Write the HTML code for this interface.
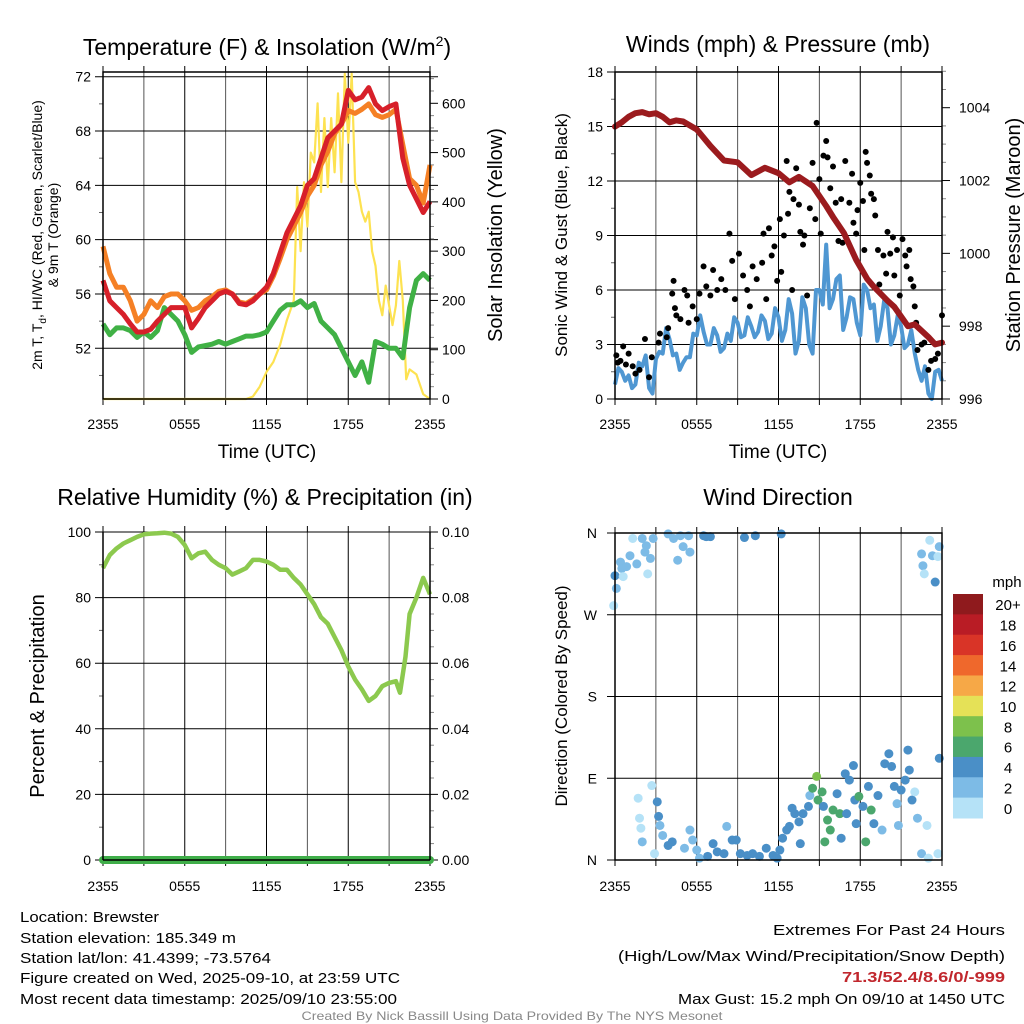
<!DOCTYPE html>
<html><head><meta charset="utf-8"><style>
html,body{margin:0;padding:0;background:#fff}
svg{display:block;font-family:"Liberation Sans",sans-serif}
</style></head><body>
<svg id="fig" width="1024" height="1024" viewBox="0 0 1024 1024" xmlns="http://www.w3.org/2000/svg"></svg>
<script>
// ---------- DATA ----------
const xTickLabels=["2355","0555","1155","1755","2355"];
const tHalf=[0,0.5,1,1.5,2,2.5,3,3.5,4,4.5,5,5.5,6,6.5,7,7.5,8,8.5,9,9.5,10,10.5,11,11.5,12,12.5,13,13.5,14,14.5,15,15.5,16,16.5,17,17.5,18,18.5,19,19.5,20,20.5,21,21.5,22,22.5,23,23.5,24];
const tempRed=[57,55.5,55,54.5,53.8,53.2,53.2,53.4,54,54.5,55,55,55,53.5,54.2,55,55.5,56,56.2,56,55.3,55.2,55.5,56,56.5,57.5,59,60.5,61.5,62.5,64,64.5,66,67.5,68,68.5,71,70.3,70.5,71.2,70,69.5,69.8,70,66,64,63,62,62.8];
const temp9m=[59.5,57.5,56.5,56.5,55.5,54,54.5,55.5,55,55.8,56,56,55.5,54.8,55,55.5,55.8,56.2,56.3,56,55.4,55.3,55.6,56,56.3,57.3,58.6,60,61,62,63.2,64,65.5,66.5,67.8,68.5,69.5,69.3,69.6,70,69.2,69,69.2,69.6,67,64.5,64,62.7,65.5];
const dewGreen=[53.8,53,53.5,53.5,53.3,52.8,53.2,52.8,53.3,55,54.5,54,53,51.7,52.1,52.2,52.3,52.5,52.3,52.5,52.7,52.9,52.9,53,53.2,54,54.8,55.2,55.2,55.5,55,55.3,54,53.5,53,52,51,50,51,49.5,52.5,52.3,52,52,51.3,55,57,57.5,57];
const solT=[0,10.5,11,11.5,12,12.5,13,13.5,14,14.25,14.5,14.75,15,15.25,15.5,15.75,16,16.25,16.5,16.75,17,17.25,17.5,17.75,18,18.25,18.5,18.75,19,19.25,19.5,19.75,20,20.25,20.5,20.75,21,21.25,21.5,21.75,22,22.25,22.5,23,23.5,24];
const solVal=[0,0,5,25,55,75,110,160,200,430,300,440,350,500,480,600,420,570,430,570,460,620,440,660,520,660,440,420,380,360,380,300,270,200,170,230,190,150,190,280,200,40,60,50,10,0];
const presT=[0,0.5,1,1.5,2,2.5,3,3.5,4,4.5,5,6,7,8,9,10,11,12,12.8,13.5,14.5,15.5,16,16.8,17.7,18.5,19,20,20.5,21.5,22,23,23.5,24];
const pres=[1003.48,1003.6,1003.75,1003.85,1003.88,1003.82,1003.85,1003.75,1003.6,1003.65,1003.62,1003.4,1002.95,1002.55,1002.5,1002.15,1002.35,1002.2,1001.95,1002.1,1001.85,1001.3,1001.0,1000.56,999.82,999.3,999.08,998.7,998.53,998.0,998.05,997.7,997.5,997.55];
const windT=[0,0.25,0.5,0.75,1,1.25,1.5,1.75,2,2.25,2.5,2.75,3,3.25,3.5,3.75,4,4.25,4.5,4.75,5,5.25,5.5,5.75,6,6.25,6.5,6.75,7,7.25,7.5,7.75,8,8.25,8.5,8.75,9,9.25,9.5,9.75,10,10.25,10.5,10.75,11,11.25,11.5,11.75,12,12.25,12.5,12.75,13,13.25,13.5,13.75,14,14.25,14.5,14.75,15,15.25,15.5,15.75,16,16.25,16.5,16.75,17,17.25,17.5,17.75,18,18.25,18.5,18.75,19,19.25,19.5,19.75,20,20.25,20.5,20.75,21,21.25,21.5,21.75,22,22.25,22.5,22.75,23,23.25,23.5,23.75,24];
const windBlue=[0.8,1.7,1.5,1.0,1.3,0.6,0.8,2.0,1.8,2.4,0.6,0.3,2.2,2.6,2.5,3.9,3.3,2.4,2.5,1.6,2.0,2.3,2.3,3.6,3.5,4.6,3.7,3.0,3.0,3.9,3.5,2.6,2.8,3.6,3.2,4.5,4.2,3.4,3.5,4.5,4.0,3.4,3.7,4.6,4.3,3.3,3.6,5.0,4.5,3.2,3.8,5.5,4.7,2.5,3.2,5.6,5.0,3.0,2.5,6.0,6.0,5.2,8.5,5.0,5.5,6.6,6.8,3.8,4.5,5.6,5.5,4.2,3.5,6.3,6.0,5.0,5.2,3.2,4.0,5.4,5.0,3.0,3.5,4.6,4.0,2.8,3.0,3.8,2.5,1.6,1.0,1.8,0.3,0.0,1.5,1.6,1.0];
const gustT=[0.1,0.4,0.6,1,1.3,1.8,2.2,2.7,3.2,3.3,3.8,3.9,4.2,4.3,4.4,4.5,4.8,5.1,5.3,5.4,5.7,6,6.2,6.5,6.7,7,7.2,7.5,7.8,8.1,8.4,8.6,8.8,9.1,9.4,9.7,9.9,10.1,10.4,10.8,10.9,11.1,11.3,11.5,11.7,11.9,12.1,12.2,12.4,12.6,12.7,12.8,13,13.1,13.3,13.5,13.6,13.8,13.9,14.1,14.3,14.5,14.7,14.8,15,15.1,15.3,15.5,15.6,15.8,16,16.2,16.4,16.6,16.7,16.9,17.2,17.4,17.5,17.7,17.8,18,18.2,18.3,18.4,18.5,18.7,18.8,19,19.1,19.3,19.4,19.7,19.9,20,20.2,20.4,20.5,20.7,20.9,21.1,21.3,21.4,21.6,21.7,21.9,22,22.1,22.2,22.5,22.7,23,23.2,23.5,23.7,24,1.5,2.5,0.2,0.8];
const gustV=[2.4,2.1,2.9,2.5,1.8,1.6,3.3,2.3,3.1,3.6,3.4,3.9,5.8,6.5,5.0,4.6,4.4,6.0,5.7,4.2,5.1,4.4,5.8,7.3,6.2,5.7,7.1,6.0,6.6,6.0,9.1,7.6,5.5,8.0,6.8,6.0,5.1,7.3,6.6,7.5,9.1,5.5,9.4,7.9,8.4,6.5,9.9,7.0,9.0,13.1,10.2,11.4,6.0,11.0,12.7,10.7,9.2,8.5,9.0,5.7,10.5,13.0,9.9,15.2,12.1,9.1,13.4,14.2,13.3,11.6,12.8,10.8,8.7,11.0,8.6,13.1,10.8,12.4,9.7,9.1,10.4,11.9,10.9,8.2,13.6,13.0,12.3,11.3,11.0,10.1,8.2,6.3,7.9,6.9,9.2,8.0,8.9,6.8,8.2,5.7,8.8,7.9,7.3,8.2,6.6,6.2,5.1,4.2,2.7,3.0,3.1,1.6,2.1,2.2,2.5,4.6,1.4,1.2,2.0,1.9];
const rhT=[0,0.5,1,1.5,2,2.5,3,3.5,4,4.5,5,5.5,6,6.5,7,7.5,8,8.5,9,9.5,10,10.5,11,11.5,12,12.5,13,13.5,14,14.5,15,15.5,16,16.5,17,17.5,18,18.5,19,19.5,20,20.5,21,21.5,21.8,22.2,22.5,23,23.5,24];
const rhVal=[89,93,95,96.5,97.5,98.5,99.3,99.5,99.6,99.8,99.5,98.5,96,92,93.5,94,91.5,90,89,87,88,89,91.5,91.5,91,90,88.5,88.5,86,84,81,78,74,72,68,64,59,55,52,48.5,50,53,54,54.5,51,62,75,80,86,81];
const precipT=[0,24];
const precipVal=[0,0];
const dirT=[-0.1,0,0.1,0.4,0.5,0.6,0.85,1.1,1.3,1.6,2,2.2,2.3,2.4,2.6,2.8,3.9,4.3,4.6,4.8,5,5.4,5.5,6.5,6.7,7,9.5,10.3,12.2,22.5,22.6,22.7,23.1,23.3,23.5,23.7,23.8,1.7,1.8,1.9,2,2.7,2.9,3.1,3.2,3.3,3.5,3.9,4.2,5.1,5.5,5.7,6,6.2,6.8,7.2,7.5,8,8.2,8.6,8.9,9.2,9.7,10.1,10.6,11.1,11.6,11.9,12.1,12.3,12.6,12.8,13,13.2,13.5,13.6,13.8,14.2,14.3,14.5,14.8,14.9,15.2,15.3,15.4,15.6,15.8,16,16.3,16.5,16.6,16.9,17,17.2,17.5,17.6,17.7,17.9,18.2,18.4,18.6,18.8,19,19.3,19.6,19.8,20.1,20.3,20.5,20.7,20.8,21,21.3,21.5,21.6,21.8,22,22.2,22.5,22.9,23,23.8,23.7];
const dirDeg=[280,313,299,328,321,312,323,335,354,326,354,339,346,315,332,354,359,354,330,357,345,357,339,357,356,356,355,357,359,337,324,315,352,335,306,334,345,68,46,35,20,82,7,64,48,38,27,16,20,13,33,22,11,2,4,18,9,7,37,22,22,7,5,7,4,13,5,2,11,24,33,37,57,51,42,18,51,59,71,79,92,66,75,59,20,44,33,55,73,51,24,95,51,88,104,66,40,70,59,20,81,55,40,71,33,106,117,103,81,62,38,77,88,121,99,66,75,46,7,38,2,112,7];
const dirSpd=[1,4,3,3,2,1,3,2,1,3,3,3,3,1,3,3,3,3,3,3,3,3,3,4,4,4,4,4,4,3,3,1,1,3,4,1,3,1,1,1,3,1,1,4,4,3,3,4,4,3,3,3,3,3,4,4,4,4,3,4,4,4,4,4,4,4,4,4,4,4,4,4,4,4,4,4,4,4,3,6,8.5,6,6,4,6,6,6,6,4,6,4,4,4,4,4,4,4,6,4,6,4,6,4,4,3,4,4,4,4,3,3,4,4,4,4,4,1,3,3,1,1,4,1];
const legendLabels=["20+","18","16","14","12","10","8","6","4","2","0"];
const legendColors=["#8f1a1d","#b91c25","#d93427","#ef682c","#f6a847","#e5e157","#7dc14c","#4ba76d","#4a8fc7","#7dbbe6","#b5e2f7"];

// ---------- HELPERS ----------
const NS="http://www.w3.org/2000/svg";
const svg=document.getElementById('fig');
function mk(tag,attrs,parent){const e=document.createElementNS(NS,tag);for(const k in attrs)e.setAttribute(k,attrs[k]);(parent||svg).appendChild(e);return e;}
function txt(s,x,y,size,anchor,parent,extra){const e=mk('text',Object.assign({x:x,y:y,'font-size':size,'text-anchor':anchor||'middle',fill:'#000'},extra||{}),parent);e.textContent=s;return e;}
function lin(lo,hi,a,b){return v=>a+(v-lo)/(hi-lo)*(b-a);}
function pathOf(xs,ys,fx,fy){let d='';for(let i=0;i<xs.length;i++)d+=(i?'L':'M')+fx(xs[i]).toFixed(1)+','+fy(ys[i]).toFixed(1);return d;}

function frame(g,L,R,T,B,xLabelY){
  const fx=lin(0,24,L,R);
  for(let h=3;h<24;h+=3){const x=fx(h);mk('line',{x1:x,y1:T,x2:x,y2:B,stroke:h%6?'#555':'#000','stroke-width':1},g);}
  for(let i=0;i<=8;i++){const x=fx(i*3);mk('line',{x1:x,y1:B,x2:x,y2:B+6,stroke:'#000'},g);mk('line',{x1:x,y1:T,x2:x,y2:T-6,stroke:'#000'},g);}
  xTickLabels.forEach((s,i)=>{const t=txt(s,fx(i*6),xLabelY,14,'middle',g);});
  return fx;
}
function border(g,L,R,T,B){mk('rect',{x:L,y:T,width:R-L,height:B-T,fill:'none',stroke:'#000','stroke-width':1.5},g);}

// ---------- PANEL 1 ----------
(function(){
  const g=mk('g',{});
  
  const L=103,R=430,T=72,B=399;
  const fx=frame(g,L,R,T,B,429);
  const fy=lin(52,72,348.3,76.7);
  const fs=lin(0,600,399,103.3);
  [52,56,60,64,68,72].forEach(v=>{mk('line',{x1:L-8,y1:fy(v),x2:R+8,y2:fy(v),stroke:'#000'},g);
    const t=txt(String(v),L-12,fy(v)+5,14,'end',g);});
  for(let v=50;v<72;v+=4)mk('line',{x1:L-4,y1:fy(v),x2:L,y2:fy(v),stroke:'#666'},g);
  for(let v=0;v<=650;v+=25){mk('line',{x1:R,y1:fs(v),x2:R+(v%100?4:8),y2:fs(v),stroke:v%100?'#888':'#000'},g);}
  [0,100,200,300,400,500,600].forEach(v=>{const t=txt(String(v),R+12,fs(v)+5,14,'start',g);});
  mk('line',{x1:L,y1:T,x2:R,y2:T,stroke:'#000'},g);
  let p;
  p=mk('path',{d:pathOf(solT,solVal,fx,fs),fill:'none',stroke:'#fde251','stroke-width':2.2,'stroke-linejoin':'round'},g);
  p=mk('path',{d:pathOf(tHalf,dewGreen,fx,fy),fill:'none',stroke:'#40b145','stroke-width':5,'stroke-linejoin':'round'},g);
  p=mk('path',{d:pathOf(tHalf,temp9m,fx,fy),fill:'none',stroke:'#f58025','stroke-width':5,'stroke-linejoin':'round'},g);
  p=mk('path',{d:pathOf(tHalf,tempRed,fx,fy),fill:'none',stroke:'#d7202a','stroke-width':5,'stroke-linejoin':'round'},g);
  border(g,L,R,T,B);
  let t=txt('',267,55,23,'middle',g);t.innerHTML='Temperature (F) &amp; Insolation (W/m<tspan font-size="14" dy="-9">2</tspan><tspan dy="9">)</tspan>';
  t=txt('Time (UTC)',267,458,19,'middle',g);
  t=txt('',0,0,14,'middle',g,{transform:'translate(42,235) rotate(-90)'});t.innerHTML='2m T, T<tspan font-size="10" dy="4">d</tspan><tspan dy="-4">, HI/WC (Red, Green, Scarlet/Blue)</tspan>';
  t=txt('& 9m T (Orange)',0,0,14,'middle',g,{transform:'translate(58,235) rotate(-90)'});
  t=txt('Solar Insolation (Yellow)',0,0,20,'middle',g,{transform:'translate(502,235) rotate(-90)'});
})();

// ---------- PANEL 2 ----------
(function(){
  const g=mk('g',{});
  
  const L=615,R=942,T=72,B=399;
  const fx=frame(g,L,R,T,B,429);
  const fy=lin(0,18,399,72);
  const fp=lin(996,1004,399,107.7);
  [0,3,6,9,12,15,18].forEach(v=>{mk('line',{x1:L-8,y1:fy(v),x2:R,y2:fy(v),stroke:'#000'},g);
    const t=txt(String(v),L-12,fy(v)+5,14,'end',g);});
  for(let v=1.5;v<18;v+=3)mk('line',{x1:L-4,y1:fy(v),x2:L,y2:fy(v),stroke:'#666'},g);
  for(let v=996;v<=1005;v+=0.5){mk('line',{x1:R,y1:fp(v),x2:R+(v%2?4:8),y2:fp(v),stroke:v%2?'#888':'#000'},g);}
  [996,998,1000,1002,1004].forEach(v=>{const t=txt(String(v),R+17,fp(v)+5,14,'start',g);});
  let p=mk('path',{d:pathOf(windT,windBlue,fx,fy),fill:'none',stroke:'#4f97d2','stroke-width':4,'stroke-linejoin':'round'},g);
  
  for(let i=0;i<gustT.length;i++){const c=mk('circle',{cx:fx(gustT[i]),cy:fy(gustV[i]),r:3,fill:'#000'},g);
    
    }
  p=mk('path',{d:pathOf(presT,pres,fx,fp),fill:'none',stroke:'#9b1b1e','stroke-width':6,'stroke-linejoin':'round','stroke-linecap':'round'},g);
  
  border(g,L,R,T,B);
  let t=txt('Winds (mph) & Pressure (mb)',778,52,23,'middle',g);
  t=txt('Time (UTC)',778,458,19,'middle',g);
  t=txt('Sonic Wind & Gust (Blue, Black)',0,0,17,'middle',g,{transform:'translate(567,235) rotate(-90)'});
  t=txt('Station Pressure (Maroon)',0,0,20,'middle',g,{transform:'translate(1020,235) rotate(-90)'});
})();

// ---------- PANEL 3 ----------
(function(){
  const g=mk('g',{});
  
  const L=103,R=430,T=532,B=860;
  const fx=frame(g,L,R,T,B,891);
  const fy=lin(0,100,860,532);
  const fr=lin(0,0.1,860,532);
  [0,20,40,60,80,100].forEach(v=>{mk('line',{x1:L-8,y1:fy(v),x2:R+8,y2:fy(v),stroke:'#000'},g);
    const t=txt(String(v),L-12,fy(v)+5,14,'end',g);});
  for(let v=10;v<100;v+=20)mk('line',{x1:L-4,y1:fy(v),x2:L,y2:fy(v),stroke:'#666'},g);
  for(let v=0;v<=100;v+=5)if(v%20)mk('line',{x1:R,y1:fy(v),x2:R+4,y2:fy(v),stroke:'#888'},g);
  [0,0.02,0.04,0.06,0.08,0.10].forEach(v=>{const t=txt(v.toFixed(2),R+12,fr(v)+5,14,'start',g);});
  let p=mk('path',{d:pathOf(rhT,rhVal,fx,fy),fill:'none',stroke:'#8cc94e','stroke-width':4.5,'stroke-linejoin':'round'},g);
  
  p=mk('path',{d:pathOf(precipT,precipVal,fx,fr),fill:'none',stroke:'#3fae49','stroke-width':8,'stroke-linecap':'round'},g);
  
  mk('line',{x1:L,y1:B,x2:R,y2:B,stroke:'#000','stroke-width':1.5},g);
  mk('line',{x1:L,y1:T,x2:L,y2:B,stroke:'#000','stroke-width':1.5},g);
  mk('line',{x1:R,y1:T,x2:R,y2:B,stroke:'#000','stroke-width':1.5},g);
  let t=txt('Relative Humidity (%) & Precipitation (in)',265,505,23,'middle',g);
  t=txt('Percent & Precipitation',0,0,20,'middle',g,{transform:'translate(44,696) rotate(-90)'});
})();

// ---------- PANEL 4 ----------
(function(){
  const g=mk('g',{});
  
  const L=615,R=942,T=533,B=860;
  const fx=frame(g,L,R,T,B,891);
  const fy=lin(0,360,860,533);
  const dl=['N','E','S','W','N'];
  [0,90,180,270,360].forEach((v,i)=>{mk('line',{x1:L-8,y1:fy(v),x2:R,y2:fy(v),stroke:'#000'},g);
    const t=txt(dl[i],L-18,fy(v)+5,14,'end',g);});
  function col(s){if(s<2)return legendColors[10];if(s<4)return legendColors[9];if(s<6)return legendColors[8];if(s<8)return legendColors[7];if(s<10)return legendColors[6];return legendColors[5];}
  for(let i=0;i<dirT.length;i++){const c=mk('circle',{cx:fx(dirT[i]),cy:fy(dirDeg[i]),r:4.5,fill:col(dirSpd[i])},g);
    
    }
  border(g,L,R,T,B);
  let t=txt('Wind Direction',778,505,23,'middle',g);
  t=txt('Direction (Colored By Speed)',0,0,17,'middle',g,{transform:'translate(567,696) rotate(-90)'});
  const lg=mk('g',{});
  
  const h=(818-594)/11;
  legendLabels.forEach((s,i)=>{mk('rect',{x:953,y:594+i*h,width:30,height:h+0.5,fill:legendColors[i]},lg);
    const tt=txt(s,1008,594+i*h+h/2+6,15,'middle',lg);});
  t=txt('mph',1007,587,15,'middle',lg);
})();

// ---------- FOOTER ----------
(function(){
  const g=mk('g',{});
  
  const left=[['Location: Brewster',139],['Station elevation: 185.349 m',216],['Station lat/lon: 41.4399; -73.5764',251],['Figure created on Wed, 2025-09-10, at 23:59 UTC',380],['Most recent data timestamp: 2025/09/10 23:55:00',377]];
  const ly=[922,943,963,983,1004];
  left.forEach((a,i)=>{const t=txt(a[0],20,ly[i],15,'start',g,{textLength:a[1],lengthAdjust:'spacingAndGlyphs'});});
  let t=txt('Extremes For Past 24 Hours',1005,935,15,'end',g,{textLength:232,lengthAdjust:'spacingAndGlyphs'});
  t=txt('(High/Low/Max Wind/Precipitation/Snow Depth)',1005,961,15,'end',g,{textLength:387,lengthAdjust:'spacingAndGlyphs'});
  t=txt('71.3/52.4/8.6/0/-999',1005,982,15,'end',g,{textLength:163,lengthAdjust:'spacingAndGlyphs',fill:'#c1272d','font-weight':'bold'});
  t=txt('Max Gust: 15.2 mph On 09/10 at 1450 UTC',1005,1004,15,'end',g,{textLength:327,lengthAdjust:'spacingAndGlyphs'});
  t=txt('Created By Nick Bassill Using Data Provided By The NYS Mesonet',512,1020,12,'middle',g,{textLength:421,lengthAdjust:'spacingAndGlyphs',fill:'#888'});
})();
</script>
</body></html>
